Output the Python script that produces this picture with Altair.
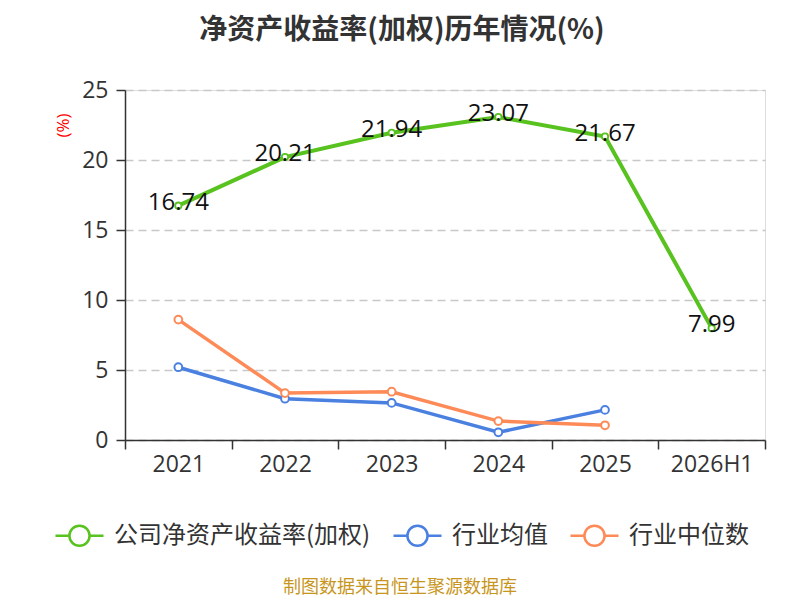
import altair as alt
import pandas as pd
import numpy as np

years = ["2021", "2022", "2023", "2024", "2025", "2026H1"]
company = [16.74, 20.21, 21.94, 23.07, 21.67, 7.99]
industry_avg = [5.2, 2.95, 2.65, 0.55, 2.15, np.nan]
industry_median = [8.6, 3.35, 3.45, 1.35, 1.05, np.nan]

s_company = "公司净资产收益率(加权)"
s_avg = "行业均值"
s_med = "行业中位数"
series_order = [s_company, s_avg, s_med]
colors = ["#58c21f", "#4a80e0", "#fd8a57"]

rows = []
for name, vals in [(s_company, company), (s_avg, industry_avg), (s_med, industry_median)]:
    for y, v in zip(years, vals):
        rows.append({"year": y, "series": name, "value": v})
df = pd.DataFrame(rows).dropna()
df_company = df[df["series"] == s_company]
df_ind = df[df["series"] != s_company]

CJK = "Noto Sans CJK SC"
NUM = "Open Sans, Noto Sans CJK SC"

legend_path = ("M-1,0H-0.42 M0.42,0H1 "
               "M-0.42,0A0.42,0.42,0,1,1,0.42,0A0.42,0.42,0,1,1,-0.42,0Z")

x_enc = alt.X("year:N", sort=years,
              scale=alt.Scale(type="band", domain=years, paddingInner=0, paddingOuter=0),
              axis=alt.Axis(title=None, tickBand="extent", labelAngle=0,
                            labelFontSize=23, labelColor="#333", labelFont=NUM,
                            labelPadding=4, tickSize=9, tickColor="#333", tickWidth=1.5,
                            domainColor="#333", domainWidth=1.5, grid=False))
y_enc = alt.Y("value:Q",
              scale=alt.Scale(domain=[0, 25], nice=False),
              axis=alt.Axis(title="(%)", values=[0, 5, 10, 15, 20, 25],
                            titleColor="red", titleFontSize=17, titleFont=NUM,
                            titleFontWeight="normal", titleAngle=270,
                            titleX=-62, titleY=35, titleAlign="center", titleBaseline="middle",
                            labelFontSize=23, labelColor="#333", labelFont=NUM,
                            labelPadding=8, tickSize=9, tickColor="#333", tickWidth=1.5,
                            domainColor="#333", domainWidth=1.5,
                            grid=True, gridColor="#c8c8c8", gridDash=[8, 5], gridWidth=1.5))
color_enc = alt.Color("series:N",
                      scale=alt.Scale(domain=series_order, range=colors),
                      legend=alt.Legend(title=None, orient="none", direction="horizontal",
                                        legendX=-71, legendY=420,
                                        symbolType=legend_path, symbolSize=2304,
                                        symbolStrokeWidth=2.5, symbolFillColor="white",
                                        labelFontSize=24, labelFont=CJK, labelColor="#333",
                                        labelOffset=9, columnPadding=17, labelLimit=400))

lines_company = alt.Chart(df_company).mark_line(strokeWidth=4).encode(
    x=x_enc, y=y_enc, color=color_enc)
lines_ind = alt.Chart(df_ind).mark_line(strokeWidth=3.5).encode(
    x=x_enc, y=y_enc, color=color_enc)
pts_company = alt.Chart(df_company).mark_point(
    shape="circle", filled=False, fill="white", fillOpacity=1, size=40, strokeWidth=1.8, opacity=1
).encode(x=x_enc, y=y_enc, color=color_enc)
pts_ind = alt.Chart(df_ind).mark_point(
    shape="circle", filled=False, fill="white", fillOpacity=1, size=60, strokeWidth=2, opacity=1
).encode(x=x_enc, y=y_enc, color=color_enc)
labels = alt.Chart(df_company).mark_text(
    fontSize=24, font=NUM, color="#111", dy=-3, baseline="middle", align="center"
).encode(x=x_enc, y=y_enc, text=alt.Text("value:Q", format=".2f"))

source = alt.Chart(pd.DataFrame({"t": ["制图数据来自恒生聚源数据库"]})).mark_text(
    fontSize=18, font=CJK, color="#c8961e", align="center", baseline="middle"
).encode(x=alt.value(275), y=alt.value(498), text="t:N")

chart = alt.layer(lines_company, lines_ind, pts_company, pts_ind, labels, source).properties(
    width=640, height=350,
    title=alt.TitleParams("净资产收益率(加权)历年情况(%)", fontSize=28, font=CJK,
                          fontWeight="bold", color="#333", anchor="middle", frame="group",
                          dx=-43, offset=34),
    autosize=alt.AutoSizeParams(type="none"),
    padding={"left": 117, "top": 82, "right": 27, "bottom": 160},
).configure_view(stroke=None).configure(background="white")

chart.save("out.html", embed_options={"renderer": "svg", "actions": False})
